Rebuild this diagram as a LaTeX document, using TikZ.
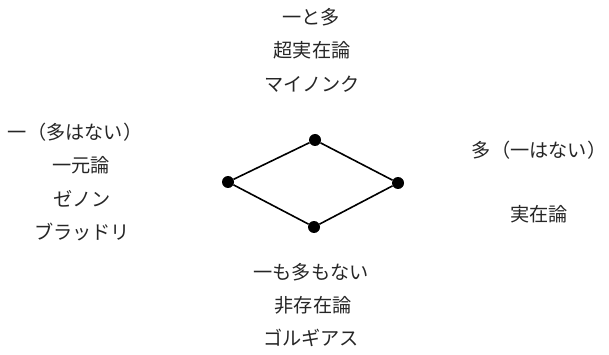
\documentclass[tikz,border=0pt]{standalone}
\usepackage{fontspec}
\newfontfamily\jp{Noto Sans CJK JP}
\begin{document}
\begin{tikzpicture}[x=1pt,y=-1pt,
  lbl/.style={font=\jp\fontsize{19.2}{19.2}\selectfont, inner sep=0pt, anchor=center, text=black!85},
  dot/.style={circle, fill=black, minimum size=12pt, inner sep=0pt},
  edge/.style={line width=1.6pt}]
\useasboundingbox (0,0) rectangle (609,355);
% dots
\node[dot] (t) at (315,140) {};
\node[dot] (l) at (228,182) {};
\node[dot] (r) at (398,183) {};
\node[dot] (b) at (314,227) {};
\draw[edge] (t) -- (l) -- (b) -- (r) -- (t);
% top
\node[lbl] (t1) at (311,17) {一と多};
\node[lbl] (t2) at (312,50) {超実在論};
\node[lbl] (t3) at (312,84) {マイノンク};
% left
\node[lbl] (l1) at (75,132) {一（多はない）};
\node[lbl] (l2) at (81,165) {一元論};
\node[lbl] (l3) at (82,199) {ゼノン};
\node[lbl] (l4) at (82,232) {ブラッドリ};
% right
\node[lbl] (r1) at (539,150) {多（一はない）};
\node[lbl] (r2) at (539,214) {実在論};
% bottom
\node[lbl] (b1) at (311,272) {一も多もない};
\node[lbl] (b2) at (313,305) {非存在論};
\node[lbl] (b3) at (311,338) {ゴルギアス};
\end{tikzpicture}
\end{document}
